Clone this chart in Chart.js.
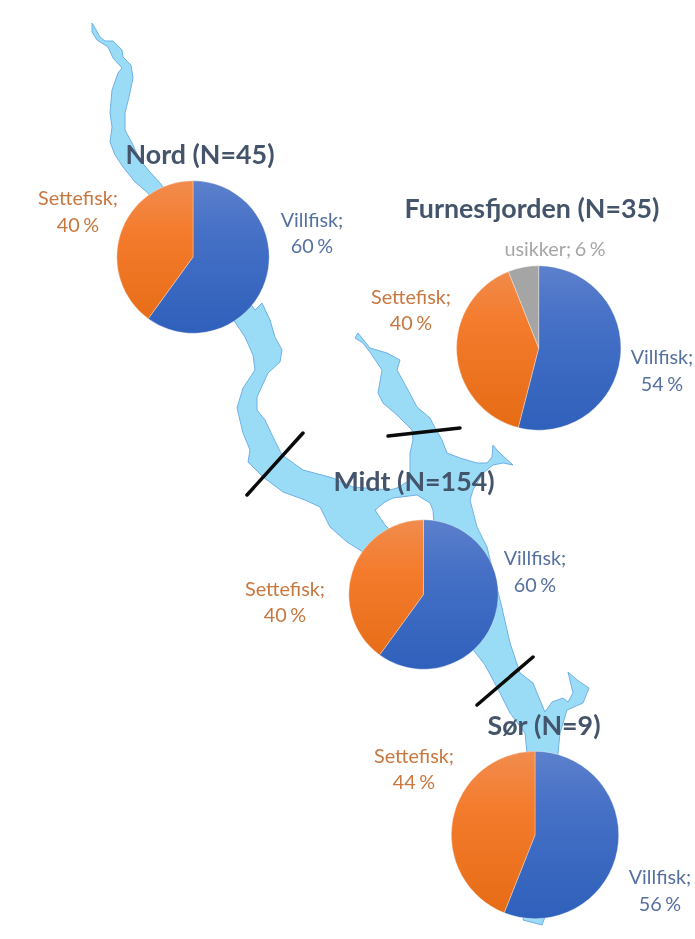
<!DOCTYPE html>
<html lang="no">
<head>
<meta charset="utf-8">
<title>Villfisk og settefisk</title>
<script src="https://cdn.jsdelivr.net/npm/chart.js@4"></script>
<style>
    html, body { margin: 0; padding: 0; background: #fff; }
    #stage { position: relative; width: 695px; height: 939px; overflow: hidden; filter: blur(0.45px); }
    #stage svg, #stage canvas { position: absolute; left: 0; top: 0; }
</style>
</head>
<body>
<div id="stage">
    <svg id="lake" width="695" height="939"></svg>
    <canvas id="pieNord" width="695" height="939"></canvas>
    <canvas id="pieFurnes" width="695" height="939"></canvas>
    <canvas id="pieMidt" width="695" height="939"></canvas>
    <canvas id="pieSor" width="695" height="939"></canvas>
</div>
<script>
const categories = ['Villfisk', 'Settefisk', 'usikker'];
const nordValues = [60, 40];
const furnesValues = [54, 40, 6];
const midtValues = [60, 40];
const sorValues = [56, 44];

const nordTitle = 'Nord (N=45)';
const furnesTitle = 'Furnesfjorden (N=35)';
const midtTitle = 'Midt (N=154)';
const sorTitle = 'Sør (N=9)';

// background map, traced by hand
const shore = 'M92,23 L95,28 L100,37 L105,41 L113,41 L122,50 L123,57 L131,65 L133,78 L129,97 L125,113 L125,130 L132,143 L140,160 L150,172 L160,183 ' +
    'L255,310 L262,303 L270,320 L275,337 L282,350 L280,362 L268,373 L257,397 L257,410 L265,420 L273,437 L282,455 L303,470 L333,478 L353,487 L390,490 L397,488 L410,480 ' +
    'L410,453 L413,440 L412,430 L397,415 L383,403 L378,393 L382,370 L372,355 L363,343 L355,338 L358,333 L370,348 L387,353 L400,360 L397,370 L408,390 L417,407 L430,418 L435,428 L442,440 L447,453 ' +
    'L460,458 L477,463 L487,463 L492,457 L493,445 L497,450 L502,455 L513,465 L503,463 L493,465 L483,473 L473,490 L470,500 L477,527 L487,547 ' +
    'L502,608 L510,643 L520,673 L533,683 L537,693 L545,712 L552,702 L563,698 L568,702 L573,693 L568,672 L577,680 L589,688 L583,703 L567,710 L560,733 L558,753 ' +
    'L545,917 L542,925 L523,920 L527,900 L527,753 L525,733 L510,713 L500,693 L485,665 L475,652 ' +
    'L363,552 L347,542 L330,527 L320,507 L305,500 L283,492 L263,477 L248,462 L250,450 L243,433 L237,408 L243,388 L255,370 L253,355 L245,337 L237,325 ' +
    'L148,193 L135,182 L123,167 L115,155 L110,142 L112,127 L110,113 L112,90 L118,73 L122,68 L113,58 L108,47 L97,40 L92,32 Z';
const island = 'M375,510 L385,502 L393,498 L417,495 L430,503 L433,510 L434,525 L420,540 L395,535 L385,525 Z';
const cuts = [[247, 495, 303, 433], [388, 436, 460, 428], [477, 705, 533, 657]];

document.getElementById('lake').innerHTML =
    `<path d="${shore}" fill="#9adcf6" stroke="#6fb0e6" stroke-width="1" stroke-linejoin="round"/>` +
    `<path d="${island}" fill="#fff" stroke="#6fb0e6" stroke-width="1" stroke-linejoin="round"/>` +
    cuts.map(c => `<line x1="${c[0]}" y1="${c[1]}" x2="${c[2]}" y2="${c[3]}" stroke="#0a0a0a" stroke-width="3.5" stroke-linecap="round"/>`).join('');

const W = 695, H = 939;
const textColors = ['#56709f', '#c8773f', '#a6a6a6'];
const fills = [['#5c80cc', '#4570c6', '#2f60bb'], ['#f18c4e', '#f47b2c', '#e56b14'], ['#a5a5a5', '#a5a5a5', '#a5a5a5']];

const pieLabels = {
    id: 'pieLabels',
    afterDraw(chart, args, opts) {
        const ctx = chart.ctx;
        const values = chart.data.datasets[0].data;
        ctx.save();
        ctx.textAlign = 'center';
        ctx.textBaseline = 'middle';
        ctx.font = 'bold 26.8px Lato';
        ctx.fillStyle = '#44546a';
        ctx.fillText(opts.title, opts.titleAt[0], opts.titleAt[1]);
        ctx.font = '19.8px Lato';
        ctx.wordSpacing = '-1.5px';
        opts.at.forEach(function (p, i) {
            ctx.fillStyle = textColors[i];
            if (p.length === 2) {
                ctx.fillText(`${categories[i]}; ${values[i]} %`, p[0], p[1]);
            } else {
                ctx.fillText(`${categories[i]};`, p[0], p[1]);
                ctx.fillText(`${values[i]} %`, p[0], p[2]);
            }
        });
        ctx.restore();
    }
};

function drawPie(id, values, cx, cy, r, title, titleAt, at) {
    new Chart(document.getElementById(id), {
        type: 'pie',
        plugins: [pieLabels],
        data: {
            labels: categories.slice(0, values.length),
            datasets: [{
                data: values,
                borderWidth: 0.6,
                borderColor: 'rgba(255,255,255,0.55)',
                backgroundColor: function (c) {
                    const g = c.chart.ctx.createLinearGradient(0, cy - r, 0, cy + r);
                    g.addColorStop(0, fills[c.dataIndex][0]);
                    g.addColorStop(0.35, fills[c.dataIndex][1]);
                    g.addColorStop(1, fills[c.dataIndex][2]);
                    return g;
                }
            }]
        },
        options: {
            responsive: false,
            animation: false,
            layout: { padding: { left: cx - r, top: cy - r, right: W - cx - r, bottom: H - cy - r } },
            plugins: {
                legend: { display: false },
                tooltip: { enabled: false },
                pieLabels: { title: title, titleAt: titleAt, at: at }
            }
        }
    });
}

drawPie('pieNord', nordValues, 193, 257, 76.5, nordTitle, [200, 155], [[312, 221, 247], [78, 199, 226]]);
drawPie('pieFurnes', furnesValues, 538.7, 348, 82.5, furnesTitle, [532, 209], [[662, 358, 385], [411, 298, 324], [555, 250]]);
drawPie('pieMidt', midtValues, 423.5, 594.5, 75, midtTitle, [414, 482], [[535, 559, 586], [285, 590, 616]]);
drawPie('pieSor', sorValues, 535, 835, 84, sorTitle, [544, 726], [[660, 878, 905], [414, 757, 783]]);
</script>
</body>
</html>
